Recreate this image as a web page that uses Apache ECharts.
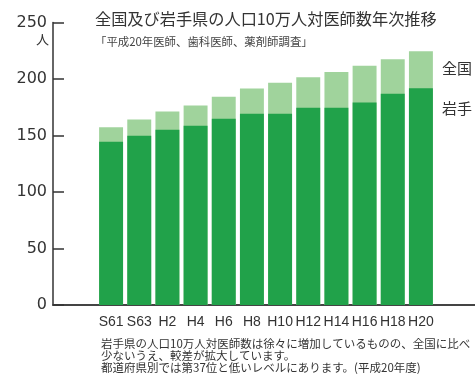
<!DOCTYPE html>
<html><head><meta charset="utf-8">
<script src="https://cdn.jsdelivr.net/npm/echarts@6/dist/echarts.min.js"></script>
<style>html,body{margin:0;padding:0;background:#fff}#c{width:475px;height:382px}</style>
</head><body><div id="c"></div>
<script>
const categories = ['S61','S63','H2','H4','H6','H8','H10','H12','H14','H16','H18','H20'];
const national = [157.3,164.2,171.3,176.5,184.4,191.6,196.6,201.5,206.1,211.7,217.5,224.5];
const iwate = [144.4,149.8,155.0,158.6,164.8,169.3,169.3,174.5,174.5,179.1,187.0,191.9];
const yTicks = [0,50,100,150,200,250];
const titleText = '全国及び岩手県の人口10万人対医師数年次推移';
const subtitleText = '「平成20年医師、歯科医師、薬剤師調査」';
const noteLines = ['岩手県の人口10万人対医師数は徐々に増加しているものの、全国に比べ','少ないうえ、較差が拡大しています。','都道府県別では第37位と低いレベルにあります。(平成20年度)'];
const seriesNames = ['全国','岩手'];

const JPF = '"Noto Sans CJK JP", sans-serif';
const ctx = document.createElement('canvas').getContext('2d');
function fitSize(text, target) {
  ctx.font = '20px ' + JPF;
  return Math.round(20 * target / ctx.measureText(text).width * 10) / 10;
}
const titleSize = fitSize(titleText, 342);
const subSize = fitSize(subtitleText, 217);
const noteSize = fitSize(noteLines[0], 369);

const chart = echarts.init(document.getElementById('c'));
chart.setOption({
  animation: false,
  grid: [
    {left: 53, right: 0, top: 22.5, bottom: 77},
    {left: 97, width: 338, top: 22.5, bottom: 77}
  ],
  xAxis: [
    {gridIndex: 0, type: 'value', min: 0, max: 1, axisLine: {show: true, lineStyle: {color: '#444', width: 2}},
     axisTick: {show: false}, axisLabel: {show: false}, splitLine: {show: false}},
    {gridIndex: 1, type: 'category', data: categories, axisLine: {show: false}, axisTick: {show: false},
     axisLabel: {interval: 0, color: '#333', fontSize: 14, margin: 10, fontFamily: '"Liberation Sans Narrow","Liberation Sans",sans-serif'}}
  ],
  yAxis: [
    {gridIndex: 0, type: 'value', min: yTicks[0], max: yTicks[yTicks.length-1], interval: 50,
     axisLine: {show: true, lineStyle: {color: '#333', width: 1.5}},
     axisTick: {show: true, inside: true, length: 11, lineStyle: {color: '#333', width: 1.5}},
     axisLabel: {color: '#333', fontSize: 16, margin: 6, fontFamily: '"DejaVu Sans", sans-serif'},
     splitLine: {show: false}},
    {gridIndex: 1, type: 'value', min: yTicks[0], max: yTicks[yTicks.length-1], show: false}
  ],
  series: [
    {name: seriesNames[0], type: 'bar', xAxisIndex: 1, yAxisIndex: 1, data: national,
     barCategoryGap: '15%', barGap: '-100%', itemStyle: {color: '#a0d39c'}},
    {name: seriesNames[1], type: 'bar', xAxisIndex: 1, yAxisIndex: 1, data: iwate,
     barCategoryGap: '15%', barGap: '-100%', itemStyle: {color: '#21a24a'}}
  ],
  graphic: [
    {type: 'text', left: 95, top: 11, style: {text: titleText, font: titleSize + 'px ' + JPF, fill: '#333'}},
    {type: 'text', left: 95, top: 36, style: {text: subtitleText, font: subSize + 'px ' + JPF, fill: '#444'}},
    {type: 'text', left: 36, top: 33, style: {text: '人', font: '13px ' + JPF, fill: '#333'}},
    {type: 'text', left: 442, top: 61, style: {text: seriesNames[0], font: '15px ' + JPF, fill: '#333'}},
    {type: 'text', left: 442, top: 101, style: {text: seriesNames[1], font: '15px ' + JPF, fill: '#333'}},
    {type: 'text', left: 101, top: 338, style: {text: noteLines[0], font: noteSize + 'px ' + JPF, fill: '#333'}},
    {type: 'text', left: 101, top: 350, style: {text: noteLines[1], font: noteSize + 'px ' + JPF, fill: '#333'}},
    {type: 'text', left: 101, top: 362, style: {text: noteLines[2], font: noteSize + 'px ' + JPF, fill: '#333'}}
  ]
});
</script></body></html>
